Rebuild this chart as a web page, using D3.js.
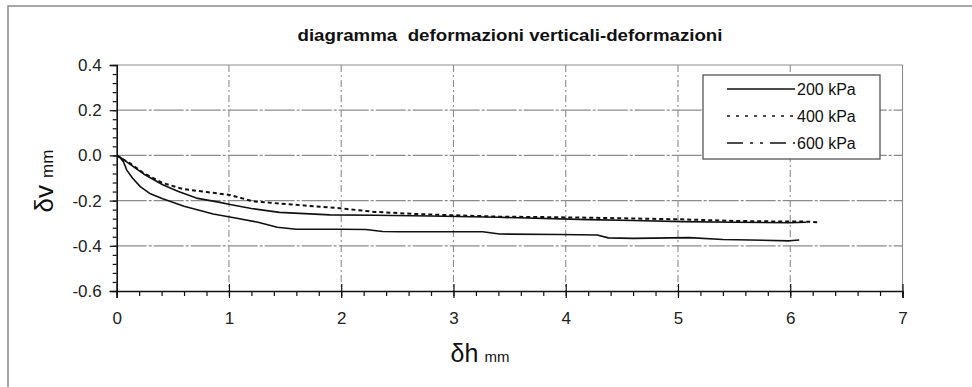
<!DOCTYPE html>
<html>
<head>
<meta charset="utf-8">
<script src="https://cdn.jsdelivr.net/npm/d3@7"></script>
<style>
  html, body { margin: 0; padding: 0; background: #fff; }
  svg { display: block; font-family: "Liberation Sans", Arial, sans-serif; }
</style>
</head>
<body>
<svg id="chart" width="972" height="387"></svg>
<script>
// Horizontal displacement δh (mm) and vertical displacement δv (mm) per normal stress
const dh200 = [0, 0.05, 0.12, 0.24, 0.41, 0.55, 0.71, 0.92, 1.01, 1.2, 1.45, 1.9, 2.3, 2.79, 3.4, 4.2, 4.6, 5.04, 5.5, 5.99, 6.14];
const dv200 = [0, -0.015, -0.04, -0.082, -0.13, -0.16, -0.189, -0.208, -0.217, -0.235, -0.252, -0.263, -0.265, -0.268, -0.274, -0.284, -0.288, -0.293, -0.296, -0.298, -0.296];

const dh400 = [0, 0.05, 0.12, 0.24, 0.41, 0.59, 0.8, 1.01, 1.21, 1.5, 1.99, 2.3, 2.7, 3.0, 3.41, 3.8, 4.25, 4.7, 5.04, 5.5, 5.99, 6.14, 6.26];
const dv400 = [0, -0.015, -0.035, -0.079, -0.122, -0.149, -0.162, -0.175, -0.203, -0.215, -0.234, -0.25, -0.26, -0.265, -0.271, -0.273, -0.276, -0.28, -0.283, -0.29, -0.293, -0.293, -0.296];

const dh600 = [0, 0.03, 0.06, 0.09, 0.14, 0.21, 0.3, 0.41, 0.6, 0.86, 1.07, 1.25, 1.43, 1.6, 2.0, 2.22, 2.37, 2.52, 3.26, 3.41, 3.94, 4.28, 4.38, 4.6, 5.1, 5.4, 5.99, 6.08];
const dv600 = [0, -0.01, -0.028, -0.065, -0.1, -0.138, -0.17, -0.192, -0.225, -0.259, -0.278, -0.295, -0.318, -0.327, -0.327, -0.328, -0.337, -0.338, -0.338, -0.348, -0.35, -0.352, -0.365, -0.367, -0.364, -0.372, -0.378, -0.374];

const seriesNames = ["200 kPa", "400 kPa", "600 kPa"];
const xTicks = [0, 1, 2, 3, 4, 5, 6, 7];
const yTicks = [-0.6, -0.4, -0.2, 0.0, 0.2, 0.4];

const titleText = "diagramma  deformazioni verticali-deformazioni";

const svg = d3.select("#chart");

const x = d3.scaleLinear().domain([0, 7]).range([116.7, 902.5]);
const y = d3.scaleLinear().domain([-0.6, 0.4]).range([291, 65]);

// outer frame of the sheet
svg.append("path")
  .attr("d", "M8,387 L8,6 L972,6")
  .attr("fill", "none").attr("stroke", "#8a8a8a").attr("stroke-width", 1.5);

// title
svg.append("text")
  .attr("x", 510).attr("y", 41)
  .attr("text-anchor", "middle")
  .attr("font-size", 17).attr("font-weight", "bold")
  .attr("textLength", 425).attr("lengthAdjust", "spacingAndGlyphs")
  .attr("fill", "#111")
  .style("white-space", "pre")
  .text(titleText);

// grid
const grid = svg.append("g");
grid.selectAll("line.h").data(yTicks.filter(v => v > -0.6)).join("line")
  .attr("x1", x(0)).attr("x2", x(7))
  .attr("y1", d => y(d)).attr("y2", d => y(d))
  .attr("stroke", "#8c8c8c").attr("stroke-width", 1.2)
  .attr("stroke-dasharray", d => d === 0.4 ? null : "30,2,3,2");
grid.selectAll("line.v").data(xTicks.filter(v => v > 0)).join("line")
  .attr("x1", d => x(d)).attr("x2", d => x(d))
  .attr("y1", y(0.4)).attr("y2", y(-0.6))
  .attr("stroke", "#8c8c8c").attr("stroke-width", 1.1)
  .attr("stroke-dasharray", d => d === 7 ? null : "7,3,2,3");

// axes
const fmt = d => d.toFixed(1);
const yMinor = d3.range(-0.6, 0.4001, 0.04);
const xMinor = d3.range(0, 7.0001, 0.2);

const yAxisMinor = svg.append("g").attr("transform", `translate(${x(0)},0)`)
  .call(d3.axisLeft(y).tickValues(yMinor).tickSize(4).tickFormat(""));
yAxisMinor.select(".domain").remove();

const yAxis = svg.append("g").attr("transform", `translate(${x(0)},0)`)
  .call(d3.axisLeft(y).tickValues(yTicks).tickSize(7).tickPadding(8).tickFormat(fmt));

const xAxisMinor = svg.append("g").attr("transform", `translate(0,${y(-0.6)})`)
  .call(d3.axisBottom(x).tickValues(xMinor).tickSize(5).tickFormat(""));
xAxisMinor.select(".domain").remove();

const xAxis = svg.append("g").attr("transform", `translate(0,${y(-0.6)})`)
  .call(d3.axisBottom(x).tickValues(xTicks).tickSize(7).tickPadding(14).tickFormat(d3.format("d")));
xAxis.selectAll(".tick line").attr("y1", -7);

svg.selectAll(".domain").attr("stroke", "#111").attr("stroke-width", 1.6);
svg.selectAll(".tick line").attr("stroke", "#111").attr("stroke-width", 1.2);
svg.selectAll(".tick text").style("font-size", "17px").attr("fill", "#222")
  .style("font-family", "'Liberation Sans', Arial, sans-serif");

// axis titles
const yl = svg.append("text")
  .attr("transform", `translate(53,${181}) rotate(-90)`)
  .attr("text-anchor", "middle").attr("fill", "#111");
yl.append("tspan").attr("font-size", 26).text("δv");
yl.append("tspan").attr("font-size", 17).attr("dx", 7).text("mm");

const xl = svg.append("text")
  .attr("x", 480).attr("y", 362)
  .attr("text-anchor", "middle").attr("fill", "#111");
xl.append("tspan").attr("font-size", 25).text("δh");
xl.append("tspan").attr("font-size", 15).attr("dx", 6).text("mm");

// curves (densely sampled dash-dot draws as a continuous stroke)
const styles = {
  "200 kPa": null,
  "400 kPa": "4,3",
  "600 kPa": null
};
const legendStyles = {
  "200 kPa": null,
  "400 kPa": "3,6",
  "600 kPa": "16,7,3,7,3,7"
};
const series = [
  { name: seriesNames[0], xs: dh200, ys: dv200 },
  { name: seriesNames[1], xs: dh400, ys: dv400 },
  { name: seriesNames[2], xs: dh600, ys: dv600 }
];
const line = d3.line().x(d => x(d[0])).y(d => y(d[1]));
svg.append("g").selectAll("path").data(series).join("path")
  .attr("d", s => line(s.xs.map((v, i) => [v, s.ys[i]])))
  .attr("fill", "none").attr("stroke", "#111")
  .attr("stroke-width", d => d.name === "400 kPa" ? 2 : 1.6)
  .attr("stroke-linejoin", "round")
  .attr("stroke-dasharray", s => styles[s.name]);

// legend
const lg = svg.append("g");
lg.append("rect").attr("x", 703).attr("y", 75).attr("width", 177).attr("height", 84)
  .attr("fill", "#fff").attr("stroke", "#555").attr("stroke-width", 1.3);
const rowY = [89, 116, 143];
seriesNames.forEach((n, i) => {
  lg.append("line").attr("x1", 727).attr("x2", 795)
    .attr("y1", rowY[i]).attr("y2", rowY[i])
    .attr("stroke", "#111").attr("stroke-width", 1.6)
    .attr("stroke-dasharray", legendStyles[n]);
  lg.append("text").attr("x", 797).attr("y", rowY[i] + 5.5)
    .attr("font-size", 16).attr("fill", "#111").text(n);
});
</script>
</body>
</html>
